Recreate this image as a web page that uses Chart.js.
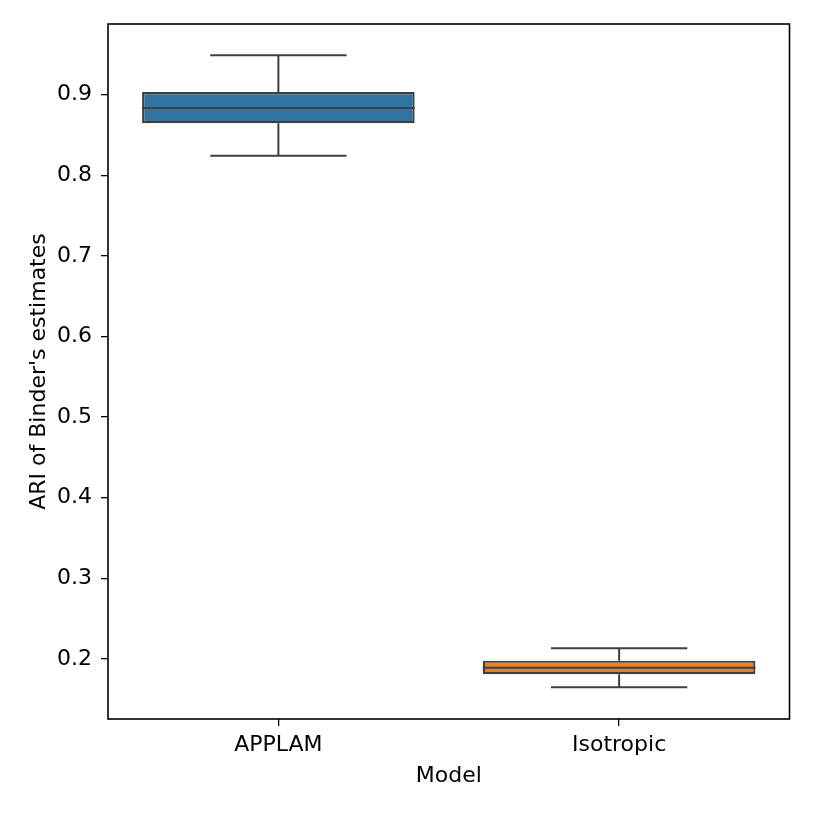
<!DOCTYPE html>
<html>
<head>
<meta charset="utf-8">
<script src="https://cdn.jsdelivr.net/npm/chart.js@4"></script>
<style>
html,body{margin:0;padding:0;background:#fff;}
#wrap{width:814px;height:814px;position:relative;}
</style>
</head>
<body>
<div id="wrap"><canvas id="c" width="814" height="814"></canvas></div>
<script>
const categories = ['APPLAM', 'Isotropic'];
const whiskerLow  = [0.8243, 0.1648];
const q1          = [0.8645, 0.1809];
const median      = [0.8835, 0.1891];
const q3          = [0.9033, 0.1978];
const whiskerHigh = [0.9489, 0.2132];
const yTicks = [0.2, 0.3, 0.4, 0.5, 0.6, 0.7, 0.8, 0.9];
const yMin = 0.1254, yMax = 0.9877;
const boxColors = ['#3274a1', '#e1812c'];

const FONT = 'DejaVu Sans';
const FS = 22;
const lineCol = '#3f3f3f';

const boxPlugin = {
  id: 'boxWhisk',
  afterDatasetsDraw(chart) {
    const ctx = chart.ctx;
    const xs = chart.scales.x, ys = chart.scales.y;
    const meta = chart.getDatasetMeta(0);
    ctx.save();
    ctx.strokeStyle = lineCol;
    ctx.lineWidth = 2;
    ctx.lineCap = 'butt';
    categories.forEach((c, i) => {
      const x = xs.getPixelForValue(i);
      const bw = meta.data[i].width;
      const capHalf = bw * 0.25;
      const yq1 = ys.getPixelForValue(q1[i]);
      const yq3 = ys.getPixelForValue(q3[i]);
      const ylo = ys.getPixelForValue(whiskerLow[i]);
      const yhi = ys.getPixelForValue(whiskerHigh[i]);
      const ym = ys.getPixelForValue(median[i]);
      ctx.beginPath();
      ctx.moveTo(x, yq3); ctx.lineTo(x, yhi);
      ctx.moveTo(x, yq1); ctx.lineTo(x, ylo);
      ctx.moveTo(x - capHalf, yhi); ctx.lineTo(x + capHalf, yhi);
      ctx.moveTo(x - capHalf, ylo); ctx.lineTo(x + capHalf, ylo);
      ctx.moveTo(x - bw / 2, ym); ctx.lineTo(x + bw / 2, ym);
      ctx.stroke();
    });
    ctx.restore();
  },
  afterDraw(chart) {
    const a = chart.chartArea, ctx = chart.ctx;
    ctx.save();
    ctx.strokeStyle = '#000';
    ctx.lineWidth = 1.6;
    ctx.strokeRect(a.left, a.top, a.right - a.left, a.bottom - a.top);
    ctx.restore();
  }
};

new Chart(document.getElementById('c'), {
  type: 'bar',
  data: {
    labels: categories,
    datasets: [{
      data: categories.map((c, i) => [q1[i], q3[i]]),
      backgroundColor: boxColors,
      borderColor: lineCol,
      borderWidth: 2.2,
      borderSkipped: false,
      barPercentage: 0.8,
      categoryPercentage: 1.0
    }]
  },
  options: {
    responsive: false,
    animation: false,
    layout: { padding: { left: 0, top: 24, right: 24.5, bottom: 0 } },
    plugins: { legend: { display: false }, tooltip: { enabled: false } },
    scales: {
      x: {
        type: 'category',
        offset: true,
        grid: { display: true, offset: false, drawOnChartArea: false, drawTicks: true, tickLength: 7, color: '#000', lineWidth: 1.3 },
        border: { display: false },
        ticks: { color: '#000', font: { family: FONT, size: FS }, padding: 6, maxRotation: 0 },
        title: { display: true, text: 'Model', color: '#000', font: { family: FONT, size: FS }, padding: { top: 0, bottom: 25 } },
        afterFit(s) { s.height = 95; }
      },
      y: {
        type: 'linear',
        min: yMin, max: yMax,
        afterBuildTicks(s) { s.ticks = yTicks.map(v => ({ value: v })); },
        grid: { display: true, drawOnChartArea: false, drawTicks: true, tickLength: 7, color: '#000', lineWidth: 1.3 },
        border: { display: false },
        ticks: { color: '#000', font: { family: FONT, size: FS }, padding: 9, callback: v => Number(v).toFixed(1) },
        title: { display: true, text: "ARI of Binder's estimates", color: '#000', font: { family: FONT, size: FS }, padding: { top: 26, bottom: 0 } },
        afterFit(s) { s.width = 108; }
      }
    }
  },
  plugins: [boxPlugin]
});
</script>
</body>
</html>
